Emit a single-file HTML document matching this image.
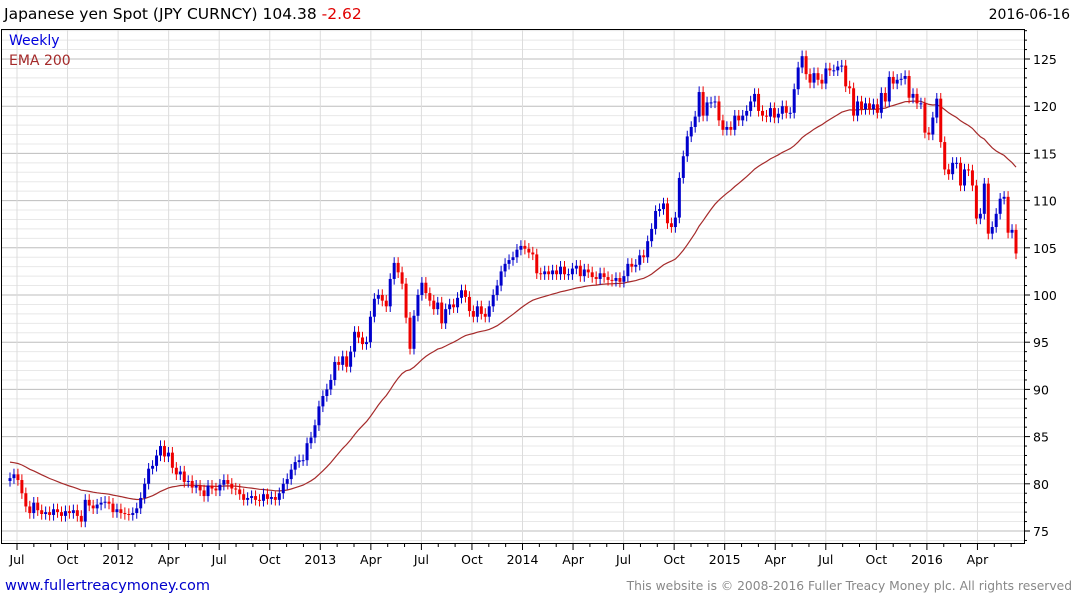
<!DOCTYPE html>
<html><head><meta charset="utf-8">
<style>
html,body{margin:0;padding:0;background:#fff;}
svg{display:block;font-family:"DejaVu Sans","Liberation Sans",sans-serif;}
</style></head>
<body>
<svg id="chart" width="1075" height="600" viewBox="0 0 1075 600" xmlns="http://www.w3.org/2000/svg">
  <text x="4" y="19" font-size="15.5" fill="#000">Japanese yen Spot (JPY CURNCY) 104.38 <tspan fill="#e00000">-2.62</tspan></text>
  <text x="1070" y="19" font-size="14" fill="#000" text-anchor="end">2016-06-16</text>
  <g id="grid"></g>
  <g id="ema"></g>
  <g id="candles"></g>
  <rect x="1.5" y="29.5" width="1023" height="514" fill="none" stroke="#000" stroke-width="1"/>
  <g id="yaxis"></g>
  <g id="xaxis"></g>
  <text x="9" y="45" font-size="14" fill="#0000dd">Weekly</text>
  <text x="9" y="65" font-size="14" fill="#a52a2a">EMA 200</text>
  <text x="5" y="590" font-size="14.5" fill="#0000cc">www.fullertreacymoney.com</text>
  <text x="1072" y="590" font-size="12.3" fill="#888" text-anchor="end">This website is © 2008-2016 Fuller Treacy Money plc. All rights reserved</text>
</svg>
<script>
const closes = [
80.6,81.0,80.4,79.0,77.6,76.9,78.0,77.2,76.8,77.0,76.7,77.3,77.0,76.6,77.1,76.9,77.2,76.6,76.0,78.3,77.7,77.4,77.8,78.0,78.1,77.9,77.0,77.3,
76.9,76.8,76.7,76.9,77.4,78.5,80.0,81.6,81.9,83.0,84.0,82.9,83.3,81.7,81.0,81.3,80.2,80.3,79.6,79.8,79.3,78.7,79.8,79.5,79.3,79.9,80.4,80.0,79.5,79.4,78.9,78.3,78.5,78.7,78.3,78.2,78.9,78.4,78.6,78.3,79.0,80.0,80.5,
81.5,82.3,82.5,82.5,84.3,84.9,86.2,88.2,89.3,90.0,91.0,92.9,92.6,93.5,92.4,94.0,96.1,95.5,94.8,95.0,97.7,99.6,100.0,99.4,98.8,101.7,103.4,102.4,101.2,97.6,94.3,97.8,100.0,101.3,100.2,99.4,98.5,99.2,97.0,98.5,99.0,98.7,99.7,100.5,99.8,98.3,97.7,98.8,98.0,97.7,98.8,100.0,101.0,102.5,103.3,103.7,104.0,104.8,105.2,104.9,104.5,104.3,102.3,102.2,102.5,102.2,102.6,102.2,103.0,102.2,102.2,102.8,103.1,102.0,102.7,102.4,101.9,101.7,102.3,101.9,101.6,101.5,101.8,101.4,102.0,103.3,103.0,103.2,104.2,104.0,105.7,107.0,
108.9,109.1,109.7,107.6,107.2,108.2,112.4,114.7,116.8,117.8,118.9,121.5,119.0,120.4,120.4,120.5,118.5,117.5,117.8,117.5,119.0,118.5,119.0,119.5,120.5,121.3,119.5,119.0,118.9,119.8,118.8,119.2,120.0,119.3,119.3,121.8,124.1,125.3,123.4,122.5,123.5,122.8,122.4,124.0,123.8,123.8,124.2,124.3,122.1,121.9,119.0,120.5,119.7,120.3,119.7,120.2,119.3,121.4,120.5,123.1,122.4,122.8,122.9,123.2,120.9,121.3,120.3,120.3,117.2,117.0,118.8,120.8,116.2,113.3,112.8,114.0,114.0,111.6,113.3,113.2,111.6,108.1,108.6,111.8,106.5,107.2,108.6,110.2,110.4,106.6,106.9,104.4
];
const firstOpen = 80.3;
const emaSeed = 82.3;
const emaPeriodWeeks = 40;
const yTicks = [75,80,85,90,95,100,105,110,115,120,125];
const xLabels = ["Jul","Oct","2012","Apr","Jul","Oct","2013","Apr","Jul","Oct","2014","Apr","Jul","Oct","2015","Apr","Jul","Oct","2016","Apr"];
const xLabelMonths = [0,3,6,9,12,15,18,21,24,27,30,33,36,39,42,45,48,51,54,57];

const NS="http://www.w3.org/2000/svg";
const X0=10, X1=1016, PT=30, PB=543, PL=2, PR=1024;
const yScale = v => 59 + (125 - v) * 9.44;
const xScale = i => X0 + i * (X1 - X0) / (closes.length - 1);
const monthX = m => 17 + m * 16.85;
function mk(tag, attrs, parent){const e=document.createElementNS(NS,tag);for(const k in attrs)e.setAttribute(k,attrs[k]);parent.appendChild(e);return e;}

const grid=document.getElementById('grid');
for(let v=74; v<=128; v++){
  const y=yScale(v); if(y<PT||y>PB) continue;
  const major = v%5===0;
  const l=mk('line',{x1:PL,x2:PR,y1:y,y2:y,stroke:major?'#bdbdbd':'#e8e8e8','stroke-width':1},grid);
  
  
}
xLabelMonths.forEach(m=>{
  const x=monthX(m);
  const l=mk('line',{x1:x,x2:x,y1:PT,y2:PB,stroke:'#dcdcdc','stroke-width':1},grid);
  
  
});

const yaxis=document.getElementById('yaxis');
for(let v=74; v<=128; v++){
  const y=yScale(v); if(y<PT||y>PB) continue;
  const t=mk('line',{x1:PR,x2:PR+(v%5===0?6:3),y1:y,y2:y,stroke:'#000'},yaxis);
  
  
}
yTicks.forEach(v=>{
  const t=mk('text',{x:1033,y:yScale(v)+5,'font-size':12.5,fill:'#000'},yaxis);
  t.textContent=v;
  
  
});

const xaxis=document.getElementById('xaxis');
for(let m=0;m<=60;m++){
  const x=monthX(m); if(x>PR) break;
  const t=mk('line',{x1:x,x2:x,y1:PB,y2:PB+(m%3===0?7:4),stroke:'#000'},xaxis);
  
  
}
xLabels.forEach((s,i)=>{
  const t=mk('text',{x:monthX(xLabelMonths[i]),y:564,'font-size':12.5,fill:'#000','text-anchor':'middle'},xaxis);
  t.textContent=s;
  
  
});

const alpha=2/(emaPeriodWeeks+1);
let e=emaSeed; const pts=[];
closes.forEach((c,i)=>{ e = i===0 ? emaSeed : e + alpha*(c-e); pts.push(xScale(i).toFixed(1)+','+yScale(e).toFixed(1)); });
const emaLine=mk('polyline',{points:pts.join(' '),fill:'none',stroke:'#a52a2a','stroke-width':1.2},document.getElementById('ema'));



const cg=document.getElementById('candles');
closes.forEach((c,i)=>{
  const o = i===0 ? firstOpen : closes[i-1];
  const up = c>=o;
  const col = up ? '#0000cc' : '#ee0000';
  const hi=Math.max(o,c)+0.6, lo=Math.min(o,c)-0.6;
  const x=xScale(i);
  const g=mk('g',{},cg);
  
  
  mk('line',{x1:x,x2:x,y1:yScale(hi),y2:yScale(lo),stroke:col,'stroke-width':1},g);
  const yt=yScale(Math.max(o,c)), yb=yScale(Math.min(o,c));
  mk('rect',{x:x-1.5,y:yt,width:3,height:Math.max(1,yb-yt),fill:col},g);
});
</script>
</body></html>
